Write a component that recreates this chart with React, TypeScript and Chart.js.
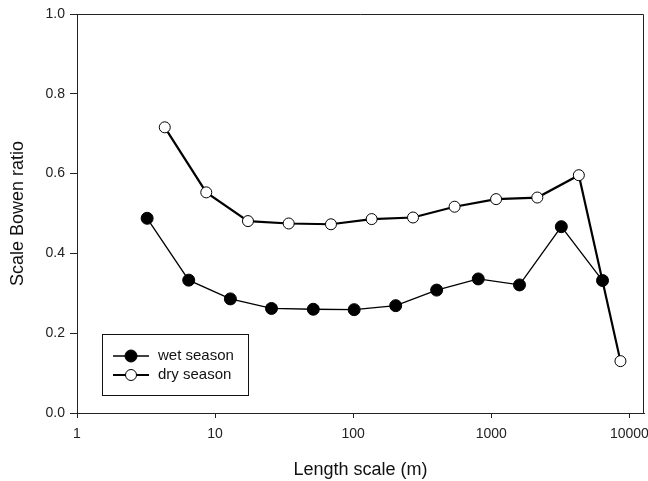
import React, { useEffect, useRef } from "react";
import { Chart, registerables } from "chart.js";

Chart.register(...registerables);

const wetX = [3.22, 6.44, 12.9, 25.6, 51.4, 101.6, 203, 402, 804, 1600, 3213, 6385];
const wetY = [0.488, 0.333, 0.286, 0.262, 0.26, 0.259, 0.269, 0.308, 0.336, 0.321, 0.467, 0.332];
const dryX = [4.32, 8.63, 17.3, 34.1, 69, 136, 271, 542, 1083, 2153, 4303, 8610];
const dryY = [0.716, 0.553, 0.481, 0.475, 0.473, 0.486, 0.49, 0.517, 0.536, 0.54, 0.596, 0.13];
const xTicks = [1, 10, 100, 1000, 10000];
const seriesNames = ["wet season", "dry season"];

const FONT = 'Arial, "Liberation Sans", sans-serif';

const boxPlugin = {
  id: "boxAndLegend",
  afterDraw(chart: any) {
    const { ctx, chartArea } = chart;
    ctx.save();
    ctx.strokeStyle = "#222";
    ctx.lineWidth = 1;
    ctx.beginPath();
    ctx.moveTo(chartArea.left, chartArea.top + 0.5);
    ctx.lineTo(chartArea.right - 0.5, chartArea.top + 0.5);
    ctx.lineTo(chartArea.right - 0.5, chartArea.bottom);
    ctx.stroke();

    const bx = chartArea.left + 25;
    const by = chartArea.bottom - 79;
    const bw = 146;
    const bh = 61;
    ctx.fillStyle = "#fff";
    ctx.fillRect(bx, by, bw, bh);
    ctx.strokeStyle = "#111";
    ctx.strokeRect(bx + 0.5, by + 0.5, bw, bh);
    const rows = [by + 22, by + 41];
    chart.data.datasets.forEach((ds: any, i: number) => {
      const y = rows[i];
      ctx.strokeStyle = "#000";
      ctx.lineWidth = ds.borderWidth;
      ctx.beginPath();
      ctx.moveTo(bx + 11, y);
      ctx.lineTo(bx + 47, y);
      ctx.stroke();
      ctx.beginPath();
      ctx.arc(bx + 29, y, ds.pointRadius, 0, Math.PI * 2);
      ctx.fillStyle = ds.pointBackgroundColor;
      ctx.fill();
      ctx.lineWidth = 1;
      ctx.strokeStyle = "#000";
      ctx.stroke();
      ctx.fillStyle = "#111";
      ctx.font = `15px ${FONT}`;
      ctx.textBaseline = "middle";
      ctx.textAlign = "left";
      ctx.fillText(ds.label, bx + 56, y);
    });
    ctx.restore();
  },
};

export default function App() {
  const ref = useRef<HTMLCanvasElement>(null);
  useEffect(() => {
    if (!ref.current) return;
    const chart = new Chart(ref.current, {
      type: "line",
      data: {
        datasets: [
          {
            label: seriesNames[0],
            data: wetX.map((x, i) => ({ x, y: wetY[i] })),
            borderColor: "#000",
            borderWidth: 1.3,
            pointRadius: 6,
            pointBackgroundColor: "#000",
            pointBorderColor: "#000",
            pointBorderWidth: 1,
            tension: 0,
          },
          {
            label: seriesNames[1],
            data: dryX.map((x, i) => ({ x, y: dryY[i] })),
            borderColor: "#000",
            borderWidth: 2.2,
            pointRadius: 5.5,
            pointBackgroundColor: "#fff",
            pointBorderColor: "#000",
            pointBorderWidth: 1,
            tension: 0,
          },
        ],
      },
      options: {
        responsive: false,
        animation: false,
        layout: { autoPadding: false, padding: { top: 14, right: 4, left: 0, bottom: 0 } },
        plugins: { legend: { display: false }, tooltip: { enabled: false } },
        scales: {
          x: {
            type: "logarithmic",
            min: 1,
            max: 12750,
            afterBuildTicks: (scale: any) => {
              scale.ticks = xTicks.map((v) => ({ value: v }));
            },
            afterFit: (scale: any) => {
              scale.height = 68;
              scale.paddingLeft = 0;
              scale.paddingRight = 0;
            },
            ticks: {
              color: "#222",
              font: { family: FONT, size: 14 },
              padding: 8,
              maxRotation: 0,
              autoSkip: false,
              callback: (v: any) => String(v),
            },
            grid: { drawOnChartArea: false, drawTicks: true, tickLength: 5, color: "#222" },
            border: { display: true, color: "#222", width: 1 },
            title: {
              display: true,
              text: "Length scale (m)",
              color: "#111",
              font: { family: FONT, size: 18 },
              padding: { top: 0, bottom: 0 },
            },
          },
          y: {
            min: 0,
            max: 1,
            afterFit: (scale: any) => {
              scale.width = 77;
              scale.paddingTop = 0;
              scale.paddingBottom = 0;
            },
            ticks: {
              stepSize: 0.2,
              color: "#222",
              font: { family: FONT, size: 14 },
              padding: 5,
              callback: (v: any) => Number(v).toFixed(1),
            },
            grid: { drawOnChartArea: false, drawTicks: true, tickLength: 7, color: "#222" },
            border: { display: true, color: "#222", width: 1 },
            title: {
              display: true,
              text: "Scale Bowen ratio",
              color: "#111",
              font: { family: FONT, size: 18 },
              padding: { top: 7, bottom: 0 },
            },
          },
        },
      },
      plugins: [boxPlugin],
    } as any);
    return () => chart.destroy();
  }, []);
  return (
    <canvas
      ref={ref}
      width={648}
      height={481}
      style={{ position: "absolute", left: 0, top: 0, width: 648, height: 481 }}
    />
  );
}
